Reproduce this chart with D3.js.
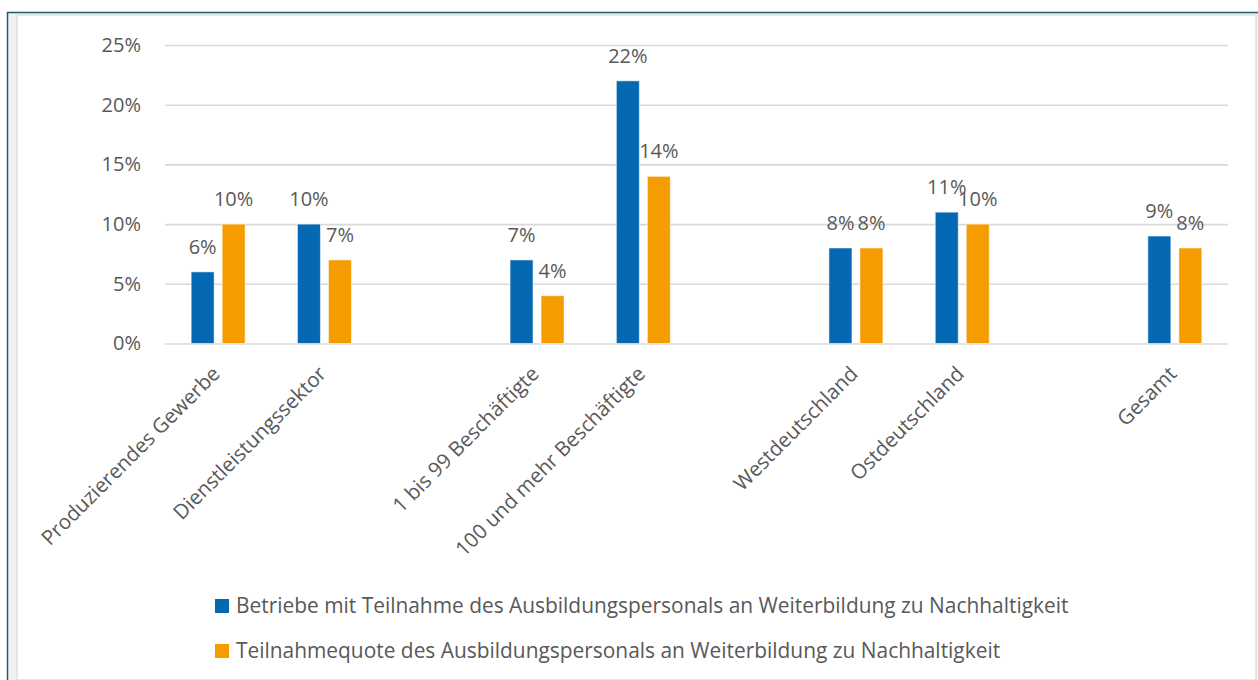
<!DOCTYPE html>
<html><head><meta charset="utf-8">
<script src="https://cdn.jsdelivr.net/npm/d3@7"></script>
<style>
html,body{margin:0;padding:0;background:#fff;}
svg{display:block;font-family:"Open Sans",sans-serif;}
</style></head>
<body>
<svg id="c" width="1258" height="680"></svg>
<script>
const categories = ["Produzierendes Gewerbe","Dienstleistungssektor","","1 bis 99 Beschäftigte","100 und mehr Beschäftigte","","Westdeutschland","Ostdeutschland","","Gesamt"];
const betriebe = [0.06,0.10,null,0.07,0.22,null,0.08,0.11,null,0.09];
const quote    = [0.10,0.07,null,0.04,0.14,null,0.08,0.10,null,0.08];
const yTicks = [0,0.05,0.10,0.15,0.20,0.25];
const seriesNames = ["Betriebe mit Teilnahme des Ausbildungspersonals an Weiterbildung zu Nachhaltigkeit","Teilnahmequote des Ausbildungspersonals an Weiterbildung zu Nachhaltigkeit"];
const colors = ["#0568B2","#F49C00"];

const svg = d3.select("#c");
const txt = "#595959";

// frame
svg.append("rect").attr("x",8).attr("y",13).attr("width",1250).attr("height",667).attr("fill","#f1f1f1");
svg.append("rect").attr("x",17).attr("y",15).attr("width",1239).attr("height",665).attr("fill","#fff").attr("stroke","#d9d9d9").attr("stroke-width",1.2);
svg.append("path").attr("d","M7.5,680V12.5H1258").attr("fill","none").attr("stroke","#1f5e6e").attr("stroke-width",1.5);

const keys = categories.map((c,i)=>"k"+i);
const x0 = d3.scaleBand().domain(keys).range([165,1228]).paddingInner(0.492).paddingOuter(0.246);
const x1 = d3.scaleBand().domain(["b","q"]).range([0,x0.bandwidth()]).paddingInner(8/31);
const y = d3.scaleLinear().domain([0,0.25]).range([343.5,45]);

// y axis + gridlines
const ya = svg.append("g").attr("transform","translate(165,0)")
  .call(d3.axisLeft(y).tickValues(yTicks).tickFormat(d3.format(".0%")).tickSize(-1063).tickPadding(24));
ya.select(".domain").remove();
ya.selectAll(".tick line").attr("stroke","#d9d9d9").attr("stroke-width",1.6);
ya.selectAll(".tick text").attr("fill",txt).attr("font-size",20).attr("font-family","'Open Sans',sans-serif");

// bars
const series = [{k:"b",v:betriebe},{k:"q",v:quote}];
series.forEach((s,si)=>{
  const g = svg.append("g");
  const data = s.v.map((v,i)=>({v,key:keys[i]})).filter(d=>d.v!==null);
  g.selectAll("rect").data(data).join("rect")
    .attr("x",d=>x0(d.key)+x1(s.k))
    .attr("y",d=>y(d.v))
    .attr("width",x1.bandwidth())
    .attr("height",d=>y(0)-y(d.v))
    .attr("fill",colors[si])
    .attr("stroke","rgba(255,255,255,0.55)").attr("stroke-width",1);
  g.selectAll("text").data(data).join("text")
    .attr("x",d=>x0(d.key)+x1(s.k)+x1.bandwidth()/2)
    .attr("y",d=>y(d.v)-18)
    .attr("text-anchor","middle")
    .attr("fill",txt).attr("font-size",20)
    .text(d=>d3.format(".0%")(d.v));
});

// x axis labels (rotated)
const xa = svg.append("g").attr("transform","translate(0,344)")
  .call(d3.axisBottom(x0).tickSize(0).tickFormat((d,i)=>categories[i]));
xa.select(".domain").remove();
xa.selectAll(".tick text")
  .attr("fill",txt).attr("font-size",20.5).attr("font-family","'Open Sans',sans-serif")
  .attr("text-anchor","end")
  .attr("transform","translate(-2,26) rotate(-45)")
  .attr("dy","0.35em").attr("dx",0).attr("y",0).attr("x",0);

// legend
const lg = svg.append("g");
seriesNames.forEach((n,i)=>{
  const yy = 606 + i*45;
  lg.append("rect").attr("x",215).attr("y",yy-7).attr("width",14).attr("height",14).attr("fill",colors[i]);
  lg.append("text").attr("x",236).attr("y",yy).attr("dy","0.35em").attr("fill",txt).attr("font-size",20.9).text(n);
});
</script>
</body></html>
